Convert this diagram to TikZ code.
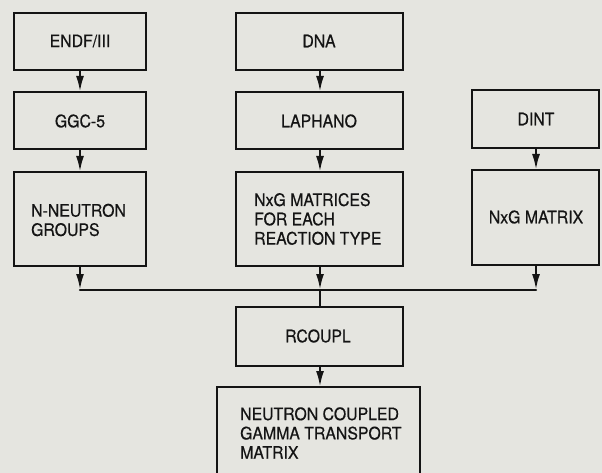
\documentclass[tikz,border=0pt]{standalone}
\usepackage{fontspec}
\setmainfont{TeX Gyre Heros}[FakeStretch=0.92,FakeBold=0.5]
\usetikzlibrary{arrows.meta}
\definecolor{paper}{RGB}{229,229,224}
\definecolor{ink}{RGB}{20,20,20}
\begin{document}
\begin{tikzpicture}[x=1pt,y=-1pt,
  box/.style={draw=ink, line width=2.4pt, fill=paper, inner sep=0pt},
  lbl/.style={font=\fontsize{17.2}{19.3}\selectfont, text=ink, align=left, inner sep=0pt},
  flow/.style={draw=ink, line width=2.4pt, -{Latex[length=16pt 0,width=8pt 0]}},
  link/.style={draw=ink, line width=2.4pt}]
\useasboundingbox[fill=paper] (0,0) rectangle (602,473);

% left column
\draw[box] (14,13) rectangle (146,70);
\node[lbl] (endf) at (80,41) {ENDF/III};
\coordinate (endfS) at (80,70);
\draw[box] (14,92) rectangle (146,149);
\node[lbl] (ggc) at (80,121) {GGC-5};
\coordinate (ggcN) at (80,92);
\coordinate (ggcS) at (80,149);
\draw[box] (14,172) rectangle (146,266);
\node[lbl, anchor=west] (ngroups) at (31,220) {N-NEUTRON\\GROUPS};
\coordinate (ngN) at (80,172);
\coordinate (ngS) at (80,266);

% middle column
\draw[box] (236,13) rectangle (403,70);
\node[lbl] (dna) at (319,41) {DNA};
\coordinate (dnaS) at (320,70);
\draw[box] (236,92) rectangle (403,149);
\node[lbl] (laphano) at (319,121) {LAPHANO};
\coordinate (lapN) at (320,92);
\coordinate (lapS) at (320,149);
\draw[box] (236,172) rectangle (403,266);
\node[lbl, anchor=west] (nxgm) at (254,219) {NxG MATRICES\\FOR EACH\\REACTION TYPE};
\coordinate (nxgmN) at (320,172);
\coordinate (nxgmS) at (320,266);

% right column
\draw[box] (472,90) rectangle (599,148);
\node[lbl] (dint) at (536,119) {DINT};
\coordinate (dintS) at (536,148);
\draw[box] (472,170) rectangle (599,265);
\node[lbl] (nxg) at (536,217) {NxG MATRIX};
\coordinate (nxgN) at (536,170);
\coordinate (nxgS) at (536,265);

% collecting bus and lower boxes
\coordinate (busL) at (80,290);
\coordinate (busM) at (320,290);
\coordinate (busR) at (536,290);
\draw[box] (236,307) rectangle (403,366);
\node[lbl] (rcoupl) at (318,336) {RCOUPL};
\coordinate (rcN) at (320,307);
\coordinate (rcS) at (320,366);
\draw[box] (217,387) rectangle (420,480);
\node[lbl, anchor=west] (ncg) at (240,433) {NEUTRON COUPLED\\GAMMA TRANSPORT\\MATRIX};
\coordinate (ncgN) at (320,387);

% connectors
\draw[flow] (endfS) -- (ggcN);
\draw[flow] (ggcS) -- (ngN);
\draw[flow] (dnaS) -- (lapN);
\draw[flow] (lapS) -- (nxgmN);
\draw[flow] (dintS) -- (nxgN);
\draw[flow] (ngS) -- (busL);
\draw[flow] (nxgmS) -- (busM);
\draw[flow] (nxgS) -- (busR);
\draw[link, line cap=round] (busL) -- (busR);
\draw[link] (busM) -- (rcN);
\draw[flow] (rcS) -- (ncgN);
\end{tikzpicture}
\end{document}
